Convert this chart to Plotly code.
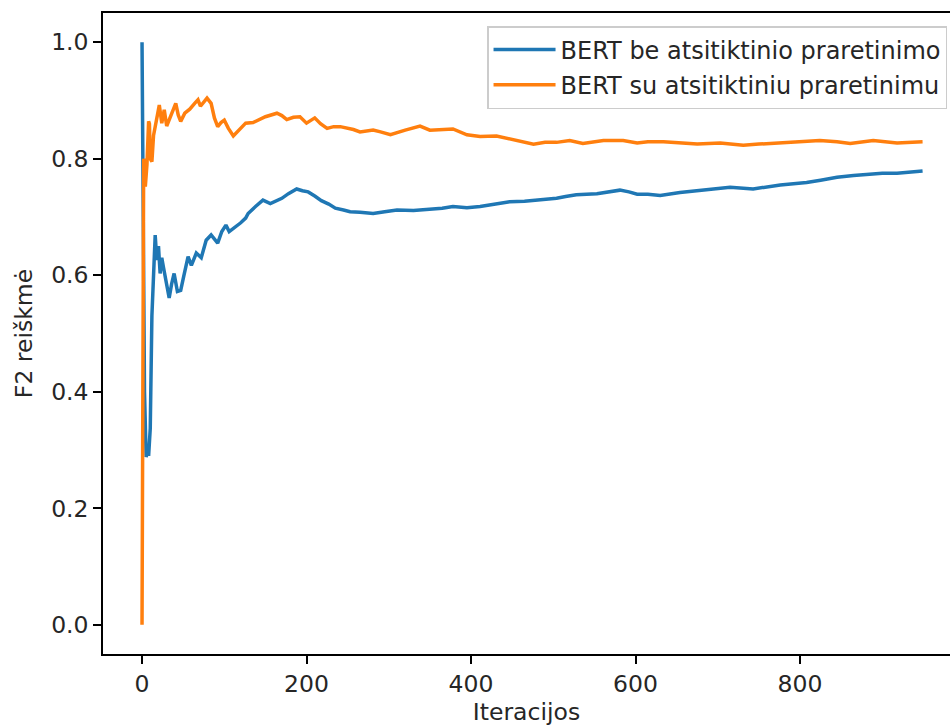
import plotly.graph_objects as go

# F2 score per iteration for the two BERT variants
iter_no_pretrain = [0, 2, 3, 5, 7, 8, 10, 12, 14, 16, 18, 20, 22, 24, 26, 29, 33, 36, 39, 43, 47, 51,
                    56, 60, 66, 72, 78, 84, 88, 92, 97, 102, 106, 114, 120, 126, 129, 138, 147, 156,
                    163, 170, 178, 188, 195, 202, 210, 218, 227, 235, 245, 253, 265, 281, 295, 310,
                    330, 350, 365, 378, 395, 411, 430, 447, 465, 480, 504, 515, 528, 553, 570, 581,
                    592, 602, 615, 630, 654, 680, 700, 715, 743, 760, 776, 792, 808, 825, 845, 865,
                    885, 900, 918, 935, 949]
f2_no_pretrain = [1.0, 0.50, 0.40, 0.288, 0.30, 0.29, 0.337, 0.53, 0.60, 0.669, 0.626, 0.65, 0.603,
                  0.63, 0.614, 0.59, 0.561, 0.585, 0.603, 0.572, 0.574, 0.60, 0.632, 0.617, 0.638,
                  0.630, 0.660, 0.669, 0.662, 0.655, 0.675, 0.686, 0.675, 0.683, 0.690, 0.698, 0.706,
                  0.718, 0.729, 0.723, 0.728, 0.732, 0.740, 0.748, 0.745, 0.743, 0.736, 0.728, 0.722,
                  0.715, 0.712, 0.709, 0.708, 0.706, 0.709, 0.712, 0.711, 0.713, 0.715, 0.718, 0.716,
                  0.718, 0.722, 0.726, 0.727, 0.729, 0.732, 0.735, 0.738, 0.740, 0.743, 0.746, 0.743,
                  0.739, 0.739, 0.737, 0.742, 0.746, 0.749, 0.751, 0.748, 0.752, 0.755, 0.757, 0.759,
                  0.763, 0.768, 0.771, 0.774, 0.775, 0.775, 0.777, 0.779]

iter_pretrain = [0, 2, 3, 4, 6, 8, 9, 10, 12, 14, 17, 21, 24, 27, 30, 35, 41, 44, 47, 52, 58, 64, 68,
                 71, 75, 79, 84, 88, 92, 96, 100, 105, 111, 118, 126, 135, 150, 164, 170, 176, 184,
                 192, 200, 210, 217, 225, 233, 241, 249, 257, 265, 281, 290, 302, 320, 338, 350, 365,
                 378, 395, 411, 431, 451, 465, 476, 490, 504, 520, 536, 561, 585, 602, 615, 634, 655,
                 675, 703, 731, 750, 764, 796, 824, 845, 861, 889, 918, 949]
f2_pretrain = [0.0, 0.80, 0.78, 0.752, 0.79, 0.864, 0.86, 0.80, 0.795, 0.84, 0.86, 0.892, 0.861, 0.884,
               0.856, 0.875, 0.895, 0.875, 0.864, 0.878, 0.885, 0.895, 0.901, 0.89, 0.898, 0.904,
               0.895, 0.87, 0.855, 0.862, 0.866, 0.852, 0.839, 0.85, 0.861, 0.862, 0.872, 0.878,
               0.874, 0.867, 0.871, 0.872, 0.861, 0.870, 0.860, 0.852, 0.855, 0.855, 0.853, 0.850,
               0.846, 0.849, 0.846, 0.841, 0.849, 0.856, 0.849, 0.850, 0.851, 0.841, 0.838, 0.839,
               0.833, 0.829, 0.825, 0.828, 0.828, 0.831, 0.826, 0.831, 0.831, 0.827, 0.829, 0.829,
               0.827, 0.825, 0.827, 0.823, 0.825, 0.826, 0.829, 0.831, 0.829, 0.826, 0.831, 0.827,
               0.829]

series_names = ["BERT be atsitiktinio praretinimo", "BERT su atsitiktiniu praretinimu"]
series_colors = ["#1f77b4", "#ff7f0e"]
x_ticks = [0, 200, 400, 600, 800]
y_ticks = [0.0, 0.2, 0.4, 0.6, 0.8, 1.0]

FONT = "DejaVu Sans"
FS = 23.5
TEXT = "#262626"

fig = go.Figure()
for i, (xs, ys) in enumerate([(iter_no_pretrain, f2_no_pretrain), (iter_pretrain, f2_pretrain)]):
    fig.add_trace(go.Scatter(
        x=xs, y=ys, mode="lines", name=series_names[i],
        legendgroup=f"g{i}",
        line=dict(color=series_colors[i], width=3.5),
    ))

x_last = max(iter_no_pretrain[-1], iter_pretrain[-1])
x_lo = -0.05 * x_last

fig.update_layout(
    width=950, height=728,
    margin=dict(l=103, r=0, t=13, b=74),
    paper_bgcolor="white", plot_bgcolor="white",
    font=dict(family=FONT, size=FS, color=TEXT),
    showlegend=True,
    legend=dict(
        x=0.9965, y=0.9797, xanchor="right", yanchor="top",
        bgcolor="rgba(255,255,255,0.8)", bordercolor="#cccccc", borderwidth=1.5,
        font=dict(family=FONT, size=24, color=TEXT),
        itemwidth=62, tracegroupgap=1,
    ),
    xaxis=dict(
        range=[x_lo, x_lo + 847 / 0.8225],
        tickvals=x_ticks, ticks="outside", ticklen=8, tickwidth=1.6, tickcolor="black",
        showline=True, linecolor="black", linewidth=1.6, mirror=True,
        showgrid=False, zeroline=False,
        title=dict(text="Iteracijos", standoff=5, font=dict(family=FONT, size=FS)),
    ),
    yaxis=dict(
        range=[-0.05, 1.05],
        tickvals=y_ticks, tickformat=".1f", ticks="outside", ticklen=8, tickwidth=1.6,
        tickcolor="black",
        showline=True, linecolor="black", linewidth=1.6, mirror=False,
        showgrid=False, zeroline=False,
        title=dict(text="F2 reiškmė", standoff=12, font=dict(family=FONT, size=FS)),
    ),
)

fig.write_html("out.html", config={"displayModeBar": False})
